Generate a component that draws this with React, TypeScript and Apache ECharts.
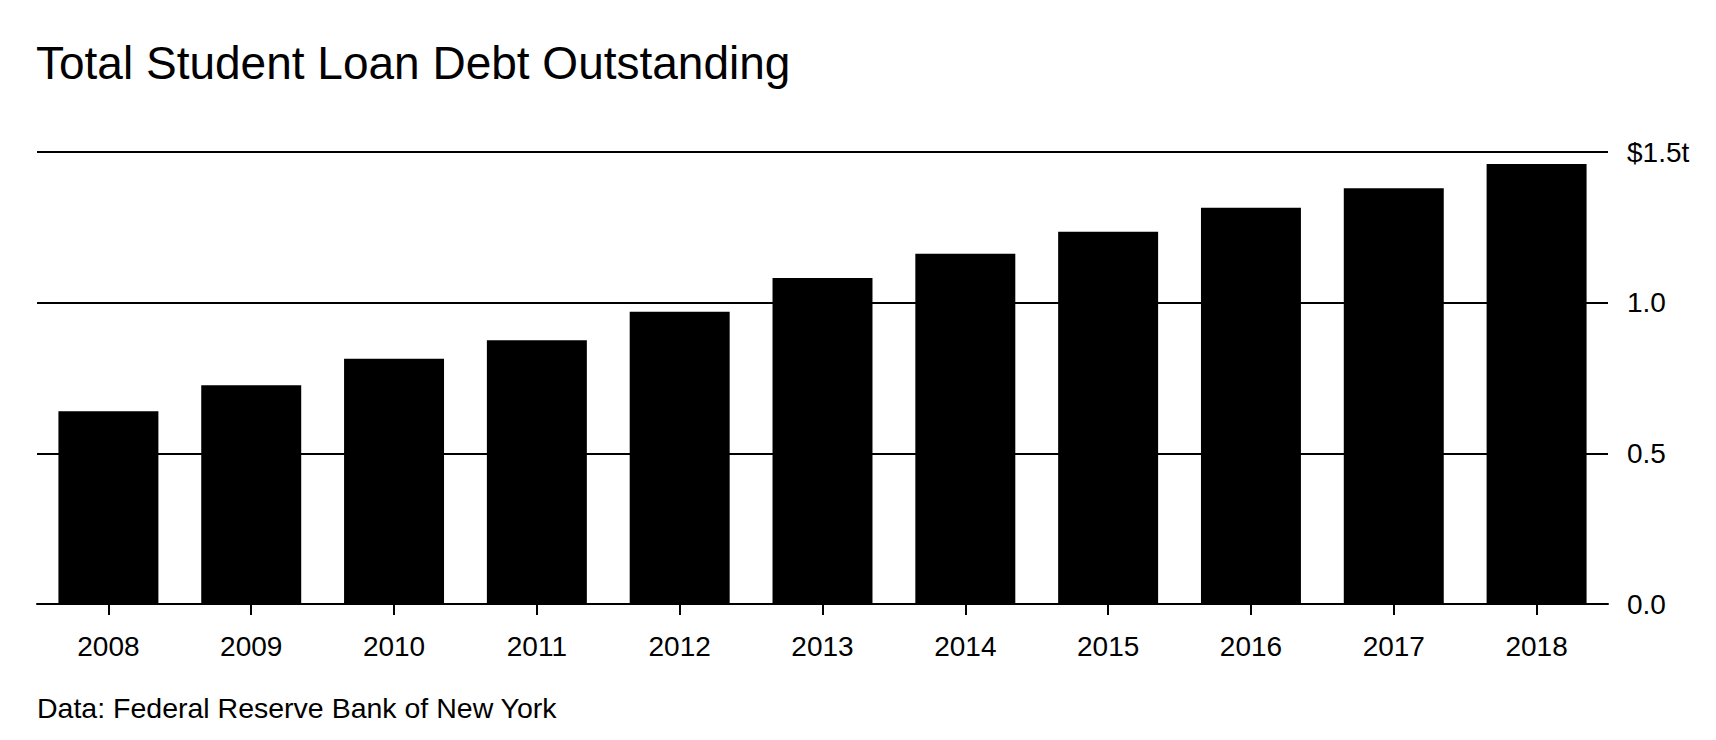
import React, { useEffect, useRef } from "react";
import * as echarts from "echarts";

const years = ["2008", "2009", "2010", "2011", "2012", "2013", "2014", "2015", "2016", "2017", "2018"];
const debtTrillions = [0.64, 0.726, 0.814, 0.875, 0.97, 1.082, 1.162, 1.235, 1.315, 1.38, 1.46];
const titleText = "Total Student Loan Debt Outstanding";
const sourceText = "Data: Federal Reserve Bank of New York";

const FONT = "'Liberation Sans', Arial, sans-serif";

export default function App() {
  const ref = useRef<HTMLDivElement>(null);
  useEffect(() => {
    if (!ref.current) return;
    const chart = echarts.init(ref.current, null, { renderer: "svg" });
    chart.setOption({
      animation: false,
      backgroundColor: "#ffffff",
      grid: { left: 37, right: 108, top: 152, bottom: 136, containLabel: false },
      graphic: [
        {
          type: "text",
          left: 36,
          top: 40,
          style: { text: titleText, font: `46px ${FONT}`, fill: "#000" },
        },
        {
          type: "text",
          left: 37,
          top: 693,
          style: { text: sourceText, font: `28.5px ${FONT}`, fill: "#000" },
        },
      ],
      xAxis: {
        type: "category",
        data: years,
        axisLine: { show: true, lineStyle: { color: "#000", width: 2 } },
        axisTick: { show: true, alignWithLabel: true, length: 11, lineStyle: { color: "#000", width: 2 } },
        axisLabel: { color: "#000", fontFamily: FONT, fontSize: 28, margin: 28 },
      },
      yAxis: {
        type: "value",
        position: "right",
        min: 0,
        max: 1.5,
        interval: 0.5,
        axisLine: { show: false },
        axisTick: { show: false },
        splitLine: { show: true, lineStyle: { color: "#000", width: 2 } },
        axisLabel: {
          color: "#000",
          fontFamily: FONT,
          fontSize: 28,
          margin: 19,
          formatter: (v: number) => (v === 1.5 ? "$1.5t" : v.toFixed(1)),
        },
      },
      series: [
        {
          type: "bar",
          data: debtTrillions,
          barCategoryGap: "30%",
          itemStyle: { color: "#000" },
          z: 3,
        },
      ],
    });
    return () => chart.dispose();
  }, []);
  return (
    <div
      ref={ref}
      style={{ position: "fixed", left: 0, top: 0, width: 1716, height: 740, background: "#fff" }}
    />
  );
}
